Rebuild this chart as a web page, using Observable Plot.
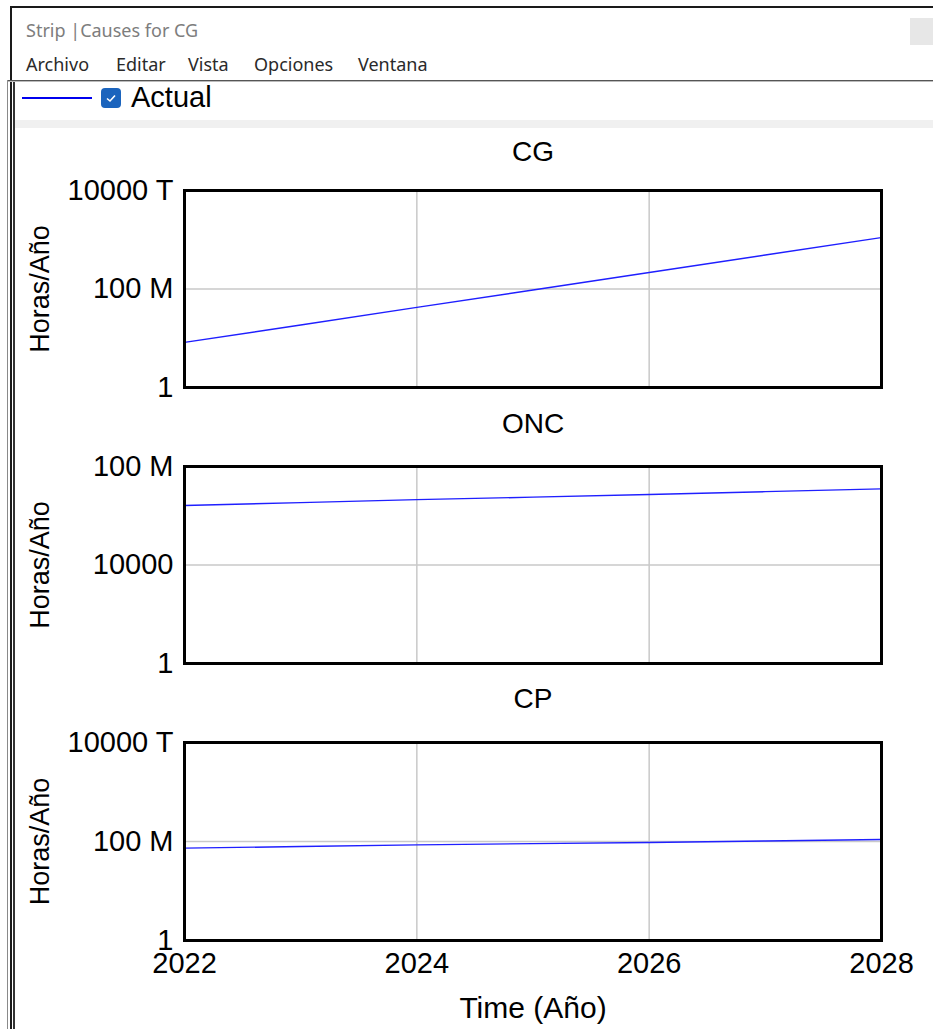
<!DOCTYPE html>
<html><head><meta charset="utf-8">
<script src="https://cdn.jsdelivr.net/npm/d3@7"></script>
<script src="https://cdn.jsdelivr.net/npm/@observablehq/plot@0.6"></script>
<style>
html,body{margin:0;padding:0;background:#fff}
body{width:933px;height:1029px;overflow:hidden;position:relative;font-family:"Liberation Sans",Arial,sans-serif}
.abs{position:absolute}
.ui{font-family:"Noto Sans","Liberation Sans",sans-serif;font-size:18px;line-height:18px;white-space:nowrap}
</style></head><body>
<script>
// ---- data ----
const years = [2022, 2023, 2024, 2025, 2026, 2027, 2028];
const cgValues  = [4.6e3, 1.2e5, 3.2e6, 8.3e7, 2.2e9, 5.8e10, 1.5e12];
const oncValues = [2.6e6, 3.4e6, 4.5e6, 5.7e6, 7.3e6, 9.5e6, 1.23e7];
const cpValues  = [2.9e7, 3.9e7, 5.3e7, 6.7e7, 8.4e7, 1.1e8, 1.45e8];
const panelTitles = ["CG", "ONC", "CP"];
const yTicksWide = [1, 1e8, 1e16];
const yTickLabelsWide = ["1", "100 M", "10000 T"];
const yTicksNarrow = [1, 1e4, 1e8];
const yTickLabelsNarrow = ["1", "10000", "100 M"];
const xTicks = [2022, 2024, 2026, 2028];
const xTickLabels = ["2022", "2024", "2026", "2028"];
const yLabel = "Horas/Año";
const xLabel = "Time (Año)";
const seriesName = "Actual";
const windowTitle = "Strip |Causes for CG";
const menuItems = ["Archivo", "Editar", "Vista", "Opciones", "Ventana"];

// ---- window chrome ----
function el(css, html) {
  const d = document.createElement("div");
  d.className = "abs";
  d.style.cssText = css;
  if (html !== undefined) d.innerHTML = html;
  document.body.appendChild(d);
  return d;
}
el("left:10px;top:6px;width:923px;height:2px;background:#1a1a1a");
el("left:10px;top:6px;width:2px;height:1023px;background:#1a1a1a");
el("left:7px;top:80px;width:1px;height:949px;background:#8a8a8a");
el("left:13px;top:80px;width:2px;height:949px;background:#333");
const t = el("left:26px;top:21px;color:#7d7d7d", "");
t.className = "abs ui"; t.textContent = windowTitle;
el("left:910px;top:18px;width:23px;height:27px;background:#e7e7e7");
const menuX = [26, 116, 188, 254, 358];
menuItems.forEach((m, i) => { const d = el(`left:${menuX[i]}px;top:55px;color:#2a2a2a`); d.className = "abs ui"; d.textContent = m; });
el("left:8px;top:80px;width:925px;height:1px;background:#555");
el("left:8px;top:81px;width:925px;height:1px;background:#bbb");
el("left:22px;top:97px;width:70px;height:2px;background:#0000ee");
el("left:101px;top:88px;width:20px;height:20px;border-radius:4px;background:#1b64bd",
   '<svg width="20" height="20"><polyline points="6,10.5 9,13 14,7.5" fill="none" stroke="#fff" stroke-width="1.6"/></svg>');
const a = el("left:131px;top:83px;font-size:29px;line-height:28px;color:#000");
a.textContent = seriesName;
el("left:15px;top:120px;width:918px;height:8px;background:#f0f0f0");

// ---- panels ----
function panel(o) {
  const data = years.map((y, i) => ({year: y, value: o.values[i]}));
  const fmt = new Map(o.ticks.map((v, i) => [v, o.labels[i]]));
  const xfmt = new Map(xTicks.map((v, i) => [v, xTickLabels[i]]));
  const marks = [
    Plot.gridX(xTicks, {stroke: "#c9c9c9", strokeOpacity: 1, strokeWidth: 1.5}),
    Plot.gridY(o.ticks, {stroke: "#c9c9c9", strokeOpacity: 1, strokeWidth: 1.5}),
    Plot.line(data, {x: "year", y: "value", stroke: "#1f1fff", strokeWidth: 1.4, clip: true}),
    Plot.frame({stroke: "#000", strokeWidth: 3}),
    Plot.axisY(o.ticks, {tickSize: 0, tickPadding: 11, tickFormat: d => fmt.get(d), fontSize: 29, label: null}),
    Plot.text([o.title], {frameAnchor: "top", dy: o.titleDy, fontSize: 28, lineAnchor: "middle", fill: "#000"}),
    Plot.text([yLabel], {frameAnchor: "left", dx: -144, rotate: -90, fontSize: 27, lineAnchor: "middle", textAnchor: "middle", fill: "#000"})
  ];
  if (o.showX) {
    marks.push(Plot.axisX(xTicks, {tickSize: 0, tickPadding: 12, tickFormat: d => xfmt.get(d), fontSize: 29, label: null}));
    marks.push(Plot.text([xLabel], {frameAnchor: "bottom", dy: 68, fontSize: 30, lineAnchor: "middle", fill: "#000"}));
  }
  const svg = Plot.plot({
    width: 933, height: o.height,
    marginLeft: 184, marginRight: 52, marginTop: o.mt, marginBottom: o.mb,
    x: {type: "linear", domain: [2022, 2028], axis: o.showX ? undefined : null},
    y: {type: "log", domain: o.domain},
    style: {fontFamily: '"Liberation Sans", Arial, sans-serif', color: "#000", background: "transparent", overflow: "visible"},
    marks
  });
  const holder = el(`left:0px;top:${o.top}px;width:933px;height:${o.height}px`);
  holder.appendChild(svg);
}
panel({values: cgValues, title: panelTitles[0], ticks: yTicksWide, labels: yTickLabelsWide, domain: [1, 1e16], top: 130, height: 270, mt: 60, mb: 13, titleDy: -38, showX: false});
panel({values: oncValues, title: panelTitles[1], ticks: yTicksNarrow, labels: yTickLabelsNarrow, domain: [1, 1e8], top: 400, height: 275, mt: 66, mb: 12, titleDy: -42, showX: false});
panel({values: cpValues, title: panelTitles[2], ticks: yTicksWide, labels: yTickLabelsWide, domain: [1, 1e16], top: 675, height: 354, mt: 67, mb: 89, titleDy: -43, showX: true});
</script>
</body></html>
